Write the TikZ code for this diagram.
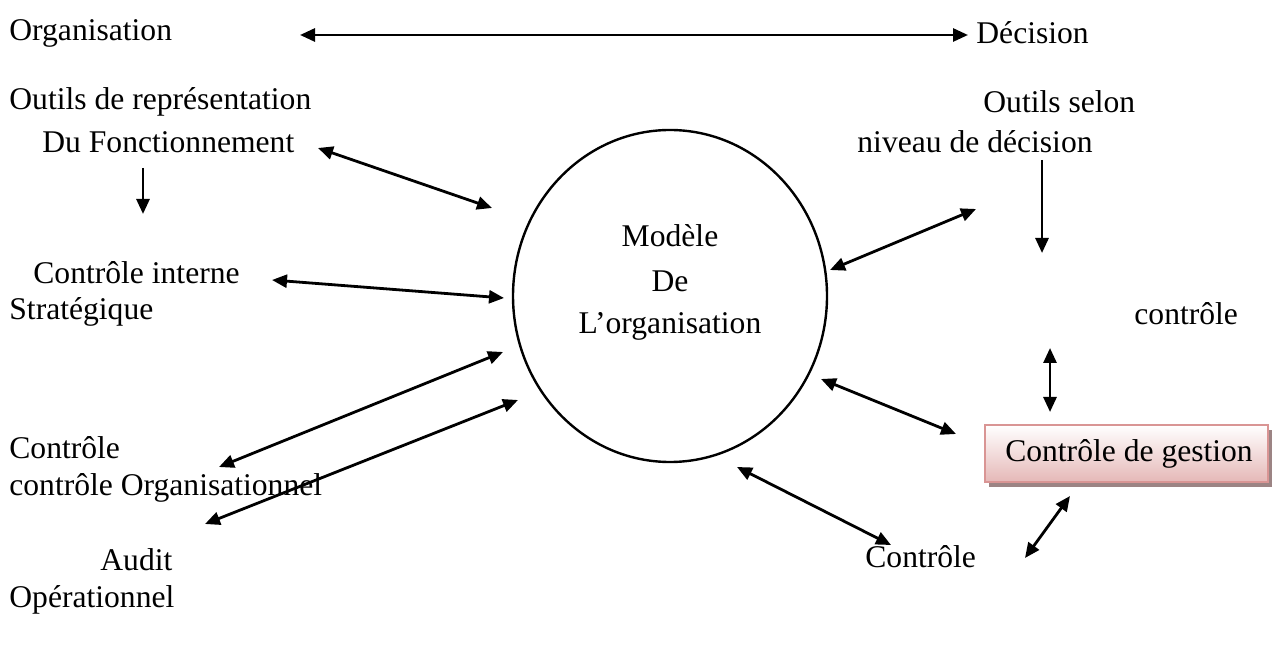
\documentclass[tikz,border=0pt]{standalone}
\usepackage{fontspec}
\setmainfont{Liberation Serif}
\usepackage{tikz}
\usetikzlibrary{arrows.meta}
\definecolor{boxline}{HTML}{D99594}
\definecolor{boxfill}{HTML}{E5B8B7}
\definecolor{boxshade}{HTML}{9C8484}

\begin{document}
\begin{tikzpicture}[x=0.5pt,y=-0.5pt,
    txt/.style={anchor=west,inner sep=0pt,font=\fontsize{15.8}{19}\selectfont},
    link/.style={{Triangle[length=7.5pt,width=6.5pt]}-{Triangle[length=7.5pt,width=6.5pt]},line width=1.4pt},
    down/.style={-{Triangle[length=7.5pt,width=6.5pt]},line width=1.4pt}]
  \useasboundingbox (0,0) rectangle (1272,651);
  % textes
  \node[txt] (org) at (9,33) {Organisation};
  \node[txt] (dec) at (976,33) {Décision};
  \node[txt] (outrep) at (9,102) {Outils de représentation};
  \node[txt] (fonct) at (42,142) {Du Fonctionnement};
  \node[txt] (outsel) at (983,102) {Outils selon};
  \node[txt] (niveau) at (857,142) {niveau de décision};
  \node[txt] (ctrlint) at (33,273) {Contrôle interne};
  \node[txt] (strat) at (9,312) {Stratégique};
  \node[txt] (ctrl) at (1134,314) {contrôle};
  \node[txt] (ctrlorg) at (9,448) {Contrôle};
  \node[txt] (orgnel) at (9,488) {contrôle Organisationnel};
  \node[txt] (audit) at (100,560) {Audit};
  \node[txt] (opnel) at (9,600) {Opérationnel};
  \node[txt] (ctrlbas) at (865,557) {Contrôle};
  % modele
  \draw[line width=1.2pt] (670,296) ellipse (157 and 166);
  \node[txt,anchor=center] (modele) at (670,236) {Modèle};
  \node[txt,anchor=center] (de) at (670,281) {De};
  \node[txt,anchor=center] (lorg) at (670,326) {L’organisation};
  % controle de gestion
  \fill[boxshade] (989,430) rectangle (1272,487);
  \shade[top color=white,bottom color=boxfill,draw=boxline,line width=1pt]
    (985,425) rectangle (1268,482);
  \node[txt,anchor=center] (cdg) at (1129,454) {Contrôle de gestion};
  % fleches
  \coordinate (a1) at (300,35);   \coordinate (a2) at (968,35);
  \coordinate (b1) at (318,148);  \coordinate (b2) at (492,208);
  \coordinate (c1) at (143,168);  \coordinate (c2) at (143,214);
  \coordinate (d1) at (272,280);  \coordinate (d2) at (504,298);
  \coordinate (e1) at (830,270);  \coordinate (e2) at (976,209);
  \coordinate (f1) at (1042,160); \coordinate (f2) at (1042,253);
  \coordinate (g1) at (1050,348); \coordinate (g2) at (1050,412);
  \coordinate (h1) at (821,379);  \coordinate (h2) at (956,434);
  \coordinate (i1) at (503,352);  \coordinate (i2) at (219,467);
  \coordinate (j1) at (518,400);  \coordinate (j2) at (205,524);
  \coordinate (k1) at (737,467);  \coordinate (k2) at (891,545);
  \coordinate (l1) at (1025,558); \coordinate (l2) at (1070,496);
  \draw[link] (a1) -- (a2);
  \draw[link] (b1) -- (b2);
  \draw[down] (c1) -- (c2);
  \draw[link] (d1) -- (d2);
  \draw[link] (e1) -- (e2);
  \draw[down] (f1) -- (f2);
  \draw[link] (g1) -- (g2);
  \draw[link] (h1) -- (h2);
  \draw[link] (i1) -- (i2);
  \draw[link] (j1) -- (j2);
  \draw[link] (k1) -- (k2);
  \draw[link] (l1) -- (l2);
\end{tikzpicture}
\end{document}
